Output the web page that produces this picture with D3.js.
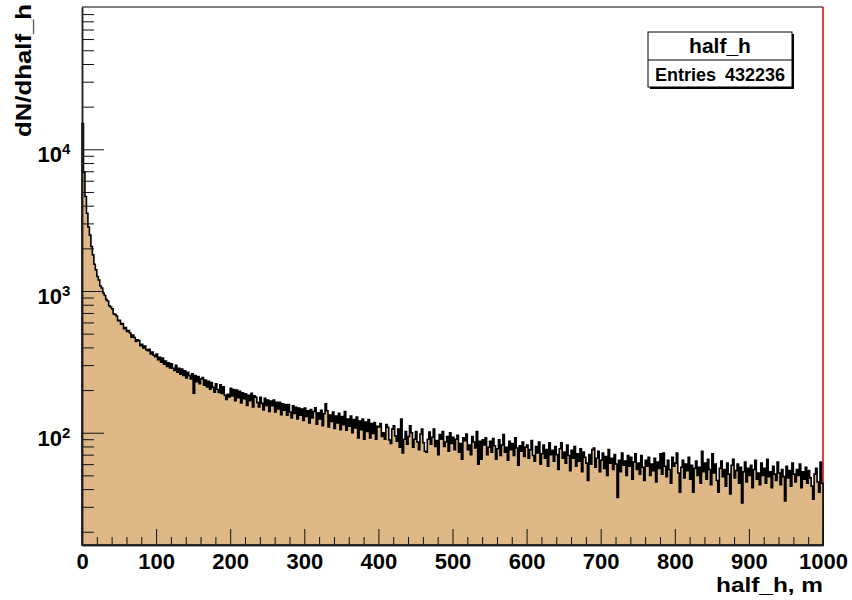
<!DOCTYPE html>
<html>
<head>
<meta charset="utf-8">
<script src="https://cdn.jsdelivr.net/npm/d3@7"></script>
<style>
  body { margin: 0; background: #fff; }
  text { font-family: "Liberation Sans", Arial, Helvetica, sans-serif; font-weight: bold; fill: #000; }
</style>
</head>
<body>
<div id="chart"></div>
<script>
// half_h histogram, 2 m bins from 0 to 1000 m, counts
var binWidth = 2;

var counts0to200 = [
  15200,6900,4650,3540,2830,2480,2060,1800,1545,1410,
  1265,1195,1085,1050,968,930,869,851,787,772,
  748,690,683,667,618,622,583,590,541,552,
  519,527,506,472,488,470,441,452,447,412,
  421,397,409,386,379,388,360,371,352,344,
  359,328,340,314,336,305,321,294,312,287,
  307,285,275,299,267,285,259,281,254,274,
  243,267,253,240,261,190,253,229,249,222,
  240,245,216,235,210,231,203,226,209,193,
  221,202,192,218,189,211,184,172,187,179
];
var counts200to400 = [
  206,182,202,168,200,177,196,162,191,174,
  188,156,184,168,190,152,182,178,163,152,
  178,161,145,175,156,170,141,167,155,170,
  140,164,147,164,134,160,144,158,133,158,
  140,127,155,137,151,125,149,133,147,122,
  149,130,143,117,146,127,141,150,115,138,
  125,144,112,136,160,143,110,133,120,140,
  107,131,117,137,105,130,114,141,104,125,
  111,131,100,124,108,129,92,121,105,125,
  90,119,102,124,92,116,99,118,90,111
];
var counts400to600 = [
  110,116,94,100,90,114,109,89,84,106,
  112,95,87,106,79,125,72,90,102,83,
  94,112,100,79,90,102,86,76,98,106,
  85,74,73,90,101,83,93,106,80,88,
  70,97,90,102,80,86,94,74,100,84,
  93,76,90,96,73,84,65,92,88,98,
  76,82,70,94,86,78,102,60,87,65,
  89,82,92,70,79,87,73,91,81,65,
  77,89,69,82,97,73,79,64,87,76,
  84,69,92,78,59,81,74,86,68,79
];
var counts600to800 = [
  82,66,76,88,69,63,80,72,86,60,
  71,82,66,76,58,85,70,75,63,80,
  70,55,77,85,66,73,61,82,69,54,
  75,66,80,58,71,63,77,53,73,67,
  61,46,70,60,76,78,57,66,74,53,
  64,72,56,68,50,76,61,66,55,70,
  60,35,64,53,72,59,63,50,69,58,
  67,47,62,71,55,61,51,69,57,46,
  64,58,67,50,60,54,66,45,62,56,
  71,51,72,58,49,64,55,44,67,58
];
var counts800to1000 = [
  61,72,52,38,57,64,48,60,54,67,
  47,59,38,56,63,50,57,44,74,53,
  61,47,65,55,43,71,52,60,46,38,
  56,63,49,55,42,61,51,37,59,65,
  48,54,60,44,57,32,53,62,45,56,
  50,59,41,55,64,47,52,43,61,50,
  56,44,65,49,53,41,58,51,46,62,
  52,43,55,49,33,58,48,54,42,61,
  51,45,55,50,60,41,53,47,57,44,
  54,48,42,34,51,56,45,38,62,44
];

var xTickLabels = [0, 100, 200, 300, 400, 500, 600, 700, 800, 900, 1000];
var yDecades = [100, 1000, 10000];
var statsTitle = "half_h";
var statsEntries = 432236;

var margin = { top: 7, left: 82, right: 29, bottom: 55 },
    width = 852 - margin.left - margin.right,
    height = 600 - margin.top - margin.bottom;

var svg = d3.select("#chart")
    .append("svg")
    .attr("width", 852)
    .attr("height", 600)
    .style("display", "block");

svg.append("rect").attr("width", 852).attr("height", 600).attr("fill", "#fff");

var container = svg.append("g")
    .attr("transform", "translate(" + margin.left + "," + margin.top + ")");

var counts = counts0to200.concat(counts200to400, counts400to600, counts600to800, counts800to1000);

var xScale = d3.scaleLinear()
    .domain([0, 1000])
    .range([0, width]);

var yScale = d3.scaleLog()
    .domain([16.13, 100970])
    .range([height, 0]);

// frame: top edge black, right edge red
container.append("line")
    .attr("x1", 0).attr("x2", width).attr("y1", 0).attr("y2", 0)
    .attr("stroke", "#000").attr("stroke-width", 1);
container.append("line")
    .attr("x1", width).attr("x2", width).attr("y1", 0).attr("y2", height)
    .attr("stroke", "#dd0000").attr("stroke-width", 1.5);

// histogram
var points = counts.map(function(c, i) { return { x0: i * binWidth, v: c }; });
points.push({ x0: counts.length * binWidth, v: counts[counts.length - 1] });

var area = d3.area()
    .curve(d3.curveStepAfter)
    .x(function(d) { return xScale(d.x0); })
    .y0(height)
    .y1(function(d) { return yScale(d.v); });

container.append("path")
    .datum(points)
    .attr("d", area)
    .attr("fill", "#deb887")
    .attr("stroke", "#000")
    .attr("stroke-width", 1.6);

// x axis (ticks point inward)
var xMinor = d3.range(0, 1001, 20).filter(function(d) { return d % 100 !== 0; });

container.append("g")
    .attr("transform", "translate(0," + height + ")")
    .call(d3.axisBottom(xScale).tickValues(xMinor).tickSize(-8).tickSizeOuter(0).tickFormat(""));

var xAxis = container.append("g")
    .attr("transform", "translate(0," + height + ")")
    .call(d3.axisBottom(xScale).tickValues(xTickLabels).tickSize(-16).tickSizeOuter(0).tickFormat(d3.format("d")));

xAxis.selectAll("text")
    .attr("y", 24)
    .attr("dy", 0)
    .attr("font-size", "22px")
    .style("font-family", '"Liberation Sans", Arial, sans-serif')
    .style("font-weight", "bold")
    .attr("fill", "#000");

// y axis (log)
var yMinor = [];
[10, 100, 1000, 10000].forEach(function(dec) {
  for (var k = 2; k <= 9; k++) {
    var v = dec * k;
    if (v > 16.13 && v < 100970) yMinor.push(v);
  }
});

container.append("g")
    .call(d3.axisLeft(yScale).tickValues(yMinor).tickSize(-12).tickSizeOuter(0).tickFormat(""));

container.append("g")
    .call(d3.axisLeft(yScale).tickValues(yDecades).tickSize(-22).tickSizeOuter(0).tickFormat(""));

container.selectAll(".domain").attr("stroke", "#222").attr("stroke-width", 1.5);
container.selectAll(".tick line").attr("stroke", "#111").attr("stroke-width", 1);

var yLabels = container.selectAll(".ylabel")
    .data(yDecades)
    .enter().append("g")
    .attr("class", "ylabel");

yLabels.append("text")
    .attr("x", -20)
    .attr("y", function(d) { return yScale(d) + 13; })
    .attr("text-anchor", "end")
    .attr("font-size", "22px")
    .text("10");

yLabels.append("text")
    .attr("x", -20)
    .attr("y", function(d) { return yScale(d) + 5; })
    .attr("text-anchor", "start")
    .attr("font-size", "15px")
    .text(function(d) { return Math.round(Math.log10(d)); });

// axis titles
svg.append("text")
    .attr("x", 823)
    .attr("y", 592)
    .attr("text-anchor", "end")
    .attr("font-size", "20px")
    .attr("textLength", 107)
    .attr("lengthAdjust", "spacingAndGlyphs")
    .text("half_h, m");

svg.append("text")
    .attr("transform", "translate(31,4) rotate(-90)")
    .attr("text-anchor", "end")
    .attr("font-size", "22px")
    .attr("textLength", 133)
    .attr("lengthAdjust", "spacingAndGlyphs")
    .text("dN/dhalf_h");

// stats box
var box = svg.append("g").attr("transform", "translate(648,32)");
box.append("rect")
    .attr("x", 2).attr("y", 2).attr("width", 144).attr("height", 55)
    .attr("fill", "#000");
box.append("rect")
    .attr("x", 0).attr("y", 0).attr("width", 144).attr("height", 55)
    .attr("fill", "#fff").attr("stroke", "#000").attr("stroke-width", 1);
box.append("line")
    .attr("x1", 0).attr("x2", 144).attr("y1", 28).attr("y2", 28)
    .attr("stroke", "#000").attr("stroke-width", 1);
box.append("text")
    .attr("x", 72).attr("y", 21)
    .attr("text-anchor", "middle")
    .attr("font-size", "21px")
    .text(statsTitle);
box.append("text")
    .attr("x", 7).attr("y", 49)
    .attr("font-size", "18px")
    .text("Entries");
box.append("text")
    .attr("x", 137).attr("y", 49)
    .attr("text-anchor", "end")
    .attr("font-size", "18px")
    .text(statsEntries);
</script>
</body>
</html>
